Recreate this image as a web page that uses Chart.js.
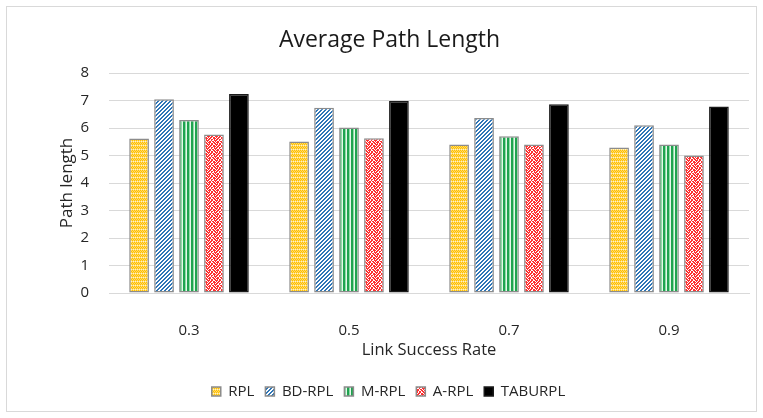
<!DOCTYPE html>
<html>
<head>
<meta charset="utf-8">
<script src="https://cdn.jsdelivr.net/npm/chart.js@4"></script>
<style>
html,body{margin:0;padding:0;background:#fff;}
#wrap{width:763px;height:418px;position:relative;}
</style>
</head>
<body>
<div id="wrap"><canvas id="c" width="763" height="418"></canvas></div>
<script>
const categories = ['0.3', '0.5', '0.7', '0.9'];
const seriesNames = ['RPL', 'BD-RPL', 'M-RPL', 'A-RPL', 'TABURPL'];
const rpl = [5.62, 5.51, 5.40, 5.29];
const bdRpl = [7.05, 6.74, 6.36, 6.10];
const mRpl = [6.29, 6.02, 5.70, 5.40];
const aRpl = [5.76, 5.63, 5.40, 5.00];
const tabuRpl = [7.24, 6.98, 6.86, 6.78];
const yTicks = [0, 1, 2, 3, 4, 5, 6, 7, 8];

const FONT = "'Open Sans', 'Liberation Sans', sans-serif";

function makePattern(rows, palette) {
  const h = rows.length, w = rows[0].length;
  const cv = document.createElement('canvas');
  cv.width = w; cv.height = h;
  const cx = cv.getContext('2d');
  for (let y = 0; y < h; y++) {
    for (let x = 0; x < w; x++) {
      cx.fillStyle = palette[rows[y][x]];
      cx.fillRect(x, y, 1, 1);
    }
  }
  return document.getElementById('c').getContext('2d').createPattern(cv, 'repeat');
}

const patRPL = makePattern([
  '0101',
  '1212',
  '0101',
  '1010'
], {'0': '#ffc000', '1': '#ffd966', '2': '#fff2cc'});

const patBD = makePattern([
  '0011',
  '0110',
  '1100',
  '1001'
], {'0': '#ffffff', '1': '#2e75b6'});

const patM = makePattern([
  '0120'
], {'0': '#1fa34f', '1': '#8fdba8', '2': '#e6f7eb'});

const patA = makePattern([
  '11011001',
  '10110110',
  '01100111',
  '11011010',
  '10010011',
  '01101101',
  '11100110',
  '01011011'
], {'0': '#ffffff', '1': '#ff3030'});

const fills = [patRPL, patBD, patM, patA, '#000000'];
const values = [rpl, bdRpl, mRpl, aRpl, tabuRpl];

const datasets = seriesNames.map((n, i) => ({
  label: n,
  data: values[i],
  backgroundColor: fills[i],
  borderColor: i === 4 ? '#1a1a1a' : '#8c8c8c',
  borderWidth: 1.5,
  borderSkipped: false,
  categoryPercentage: 0.78,
  barPercentage: 0.79
}));

const frame = {
  id: 'frame',
  beforeDraw(chart) {
    const ctx = chart.ctx;
    ctx.save();
    ctx.fillStyle = '#fff';
    ctx.fillRect(0, 0, chart.width, chart.height);
    ctx.strokeStyle = '#d9d9d9';
    ctx.lineWidth = 1;
    ctx.strokeRect(6.5, 6.5, 750, 405);
    ctx.restore();
  }
};

const boxShift = {
  id: 'boxShift',
  afterLayout(chart) {
    const lg = chart.legend;
    if (lg) { lg.left += 9; lg.right += 9; }
    const t = chart.titleBlock;
    if (t) { t.left += 10; t.right += 10; }
  }
};

new Chart(document.getElementById('c'), {
  type: 'bar',
  data: { labels: categories, datasets },
  plugins: [frame, boxShift],
  options: {
    responsive: false,
    animation: false,
    layout: { padding: { left: 10, right: 14, top: 10, bottom: 9 } },
    plugins: {
      title: {
        display: true,
        text: 'Average Path Length',
        color: '#1a1a1a',
        font: { family: FONT, size: 23, weight: 'normal', lineHeight: 1.2 },
        padding: { top: 17, bottom: 18.4 }
      },
      legend: {
        position: 'bottom',
        labels: {
          color: '#262626',
          font: { family: FONT, size: 15 },
          boxWidth: 9,
          boxHeight: 9,
          padding: 11
        }
      },
      tooltip: { enabled: false }
    },
    scales: {
      x: {
        grid: { display: false },
        border: { display: true, color: '#d9d9d9' },
        ticks: { color: '#262626', font: { family: FONT, size: 15 }, padding: 21 },
        title: {
          display: true,
          text: 'Link Success Rate',
          color: '#262626',
          font: { family: FONT, size: 16.5, lineHeight: 1.2 },
          padding: { top: 0, bottom: 13 }
        },
        afterFit(s) { s.height = 80; }
      },
      y: {
        min: 0, max: 8,
        afterBuildTicks(s) { s.ticks = yTicks.map(v => ({ value: v })); },
        grid: { color: '#d9d9d9', drawTicks: false },
        border: { display: false },
        ticks: { color: '#262626', font: { family: FONT, size: 15 }, padding: 20 },
        title: {
          display: true,
          text: 'Path length',
          color: '#262626',
          font: { family: FONT, size: 17, lineHeight: 1.2 },
          padding: { top: 47, bottom: 0 }
        },
        afterFit(s) { s.width = 99; }
      }
    }
  }
});
</script>
</body>
</html>
